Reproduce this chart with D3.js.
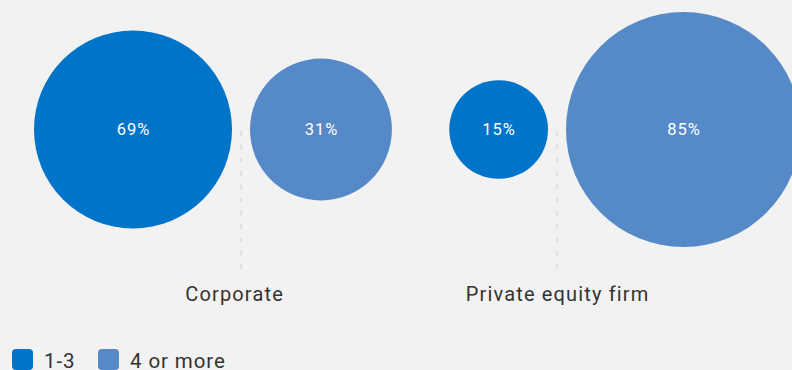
<!DOCTYPE html>
<html>
<head>
<meta charset="utf-8">
<script src="https://cdn.jsdelivr.net/npm/d3@7/dist/d3.min.js"></script>
<style>
  html, body { margin: 0; padding: 0; background: #f2f2f2; }
  svg { display: block; font-family: Roboto, "Noto Sans", sans-serif; }
</style>
</head>
<body>
<script>
// Share of respondents by number of deals, per buyer type
const groups = ["Corporate", "Private equity firm"];
const seriesNames = ["1-3", "4 or more"];
const seriesColors = ["#0074c8", "#5589c8"];
const shares13 = [69, 15];
const shares4plus = [31, 85];

const W = 792, H = 370;
const svg = d3.select("body").append("svg").attr("width", W).attr("height", H);
svg.append("rect").attr("width", W).attr("height", H).attr("fill", "#f2f2f2");

// Each group sits on a divider; circles hang either side of it
const x = d3.scaleBand().domain(groups).range([83, 715]);
const r = d3.scaleSqrt().domain([0, 85]).range([0, 117.5]);
const cy = 129.5, gap = 9, leftLimit = 34;

const data = groups.map((g, i) => ({
  group: g,
  values: [shares13[i], shares4plus[i]]
}));

data.forEach((d, gi) => {
  const cx0 = x(d.group) + x.bandwidth() / 2;
  const g = svg.append("g");

  // dotted divider
  g.append("line")
    .attr("x1", cx0).attr("x2", cx0)
    .attr("y1", 131).attr("y2", 270)
    .attr("stroke", "#e2e2e2").attr("stroke-width", 2.5)
    .attr("stroke-dasharray", "5 8.3");

  // left circle is limited to the room left of its divider
  const room = gi === 0 ? (cx0 - gap - leftLimit) / 2 : Infinity;
  const rl = Math.min(r(d.values[0]), room);
  const rr = r(d.values[1]);
  const circles = [
    { cx: cx0 - gap - rl, r: rl, v: d.values[0], c: seriesColors[0] },
    { cx: cx0 + gap + rr, r: rr, v: d.values[1], c: seriesColors[1] }
  ];

  g.selectAll("circle").data(circles).join("circle")
    .attr("cx", c => c.cx).attr("cy", cy).attr("r", c => c.r)
    .attr("fill", c => c.c);

  g.selectAll("text.val").data(circles).join("text")
    .attr("class", "val")
    .attr("x", c => c.cx + 0.5).attr("y", cy)
    .attr("dy", "0.35em")
    .attr("text-anchor", "middle")
    .attr("fill", "#ffffff")
    .attr("font-size", 16.5)
    .attr("letter-spacing", 1)
    .text(c => c.v + "%");

  g.append("text")
    .attr("x", cx0 - (gi === 0 ? 7 : 0) + 0.6).attr("y", 301)
    .attr("text-anchor", "middle")
    .attr("fill", "#333333")
    .attr("font-size", 20)
    .attr("letter-spacing", 1.15)
    .text(d.group);
});

// legend
const legend = svg.append("g").attr("transform", "translate(12,349)");
const lx = [0, 86];
seriesNames.forEach((name, i) => {
  const item = legend.append("g").attr("transform", `translate(${lx[i]},0)`);
  item.append("rect").attr("width", 21).attr("height", 21).attr("rx", 4)
    .attr("fill", seriesColors[i]);
  item.append("text").attr("x", 32).attr("y", 18.5)
    .attr("fill", "#333333").attr("font-size", 20.5)
    .attr("letter-spacing", 0.9)
    .text(name);
});
</script>
</body>
</html>
